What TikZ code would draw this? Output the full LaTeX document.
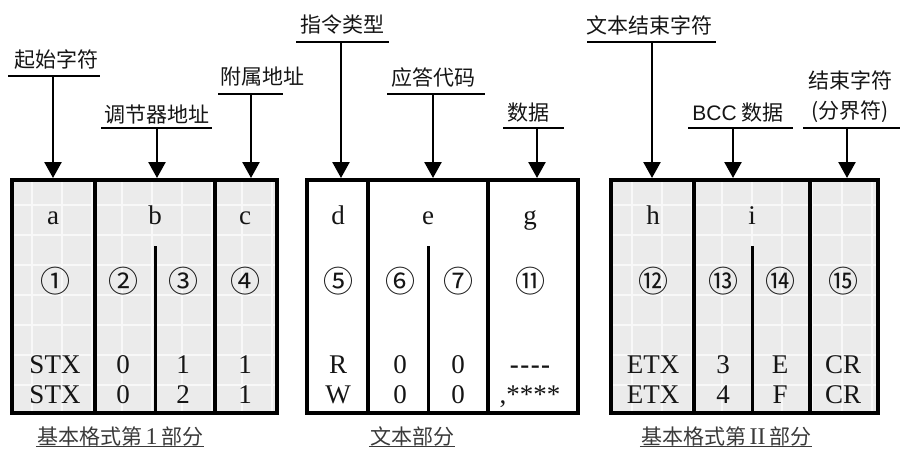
\documentclass[tikz,border=0pt]{standalone}
\usepackage{fontspec}
\setmainfont{Liberation Serif}
\setsansfont{Liberation Sans}
\newfontfamily\cjk{Noto Sans CJK SC}
\usetikzlibrary{arrows.meta,positioning,calc}
\definecolor{cellgray}{HTML}{EBEBEB}
\definecolor{gridwhite}{HTML}{F8F8F8}
\definecolor{textdark}{HTML}{151515}
\definecolor{captiongray}{HTML}{3A3A3A}
\tikzset{
  >={Triangle[length=16pt,width=17pt]},
  tag/.style={font=\cjk\fontsize{21}{30}\selectfont, text=textdark, inner sep=0pt, align=center},
  field/.style={font=\fontsize{27}{30}\selectfont, text=textdark, inner sep=0pt, anchor=base},
  circnum/.style={font=\cjk\fontsize{30}{32}\selectfont, text=textdark, inner sep=0pt, anchor=base},
  caption/.style={font=\cjk\fontsize{21}{25}\selectfont, text=captiongray, inner sep=1pt},
  capline/.style={draw=captiongray, line width=1pt},
  rule/.style={line width=2.5pt},
  pointer/.style={->, line width=2.5pt},
  frame/.style={line width=4.5pt},
  divider/.style={line width=3.6pt},
  halfdiv/.style={line width=3pt}
}
\newcommand{\datadash}{\textbf{-\kern1.5pt-\kern1.5pt-\kern1.5pt-}}
\newcommand{\datastar}{,****}
% grey panel with faint grid
\newcommand{\graypanel}[2]{
  \fill[cellgray] (#1,180) rectangle (#2,413);
  \begin{scope}
    \clip (#1,180) rectangle (#2,413);
    \foreach \gx in {2,32,...,902} \draw[gridwhite, line width=1.2pt] (\gx,180) -- (\gx,413);
    \foreach \gy in {175,205,...,415} \draw[gridwhite, line width=1.2pt] (#1,\gy) -- (#2,\gy);
  \end{scope}
}
% frame, two dividers, one half divider
\newcommand{\panel}[5]{
  \draw[frame] (#1,180) rectangle (#2,413);
  \draw[divider] (#3,180) -- (#3,413);
  \draw[divider] (#4,180) -- (#4,413);
  \draw[halfdiv] (#5,246) -- (#5,413);
}
% name, text x, text y, rule left, rule right, rule y, arrow x, text
\newcommand{\fieldtag}[8]{
  \node[tag] (#1) at (#2,#3) {#8};
  \coordinate (#1-l) at (#4,#6);
  \coordinate (#1-r) at (#5,#6);
  \coordinate (#1-s) at (#7,#6);
  \coordinate (#1-t) at (#7,178);
  \draw[rule] (#1-l) -- (#1-r);
  \draw[pointer] (#1-s) -- (#1-t);
}
\begin{document}
\begin{tikzpicture}[x=1pt,y=-1pt]
\useasboundingbox (0,0) rectangle (901,450);
\graypanel{12}{277}
\graypanel{611}{878}
\panel{12}{277}{95}{215}{155}
\panel{307}{578}{368}{488}{428}
\panel{611}{878}{694}{810}{752}
% labels above the frame
\fieldtag{start}{56}{60}{8}{100}{76}{53}{起始字符}
\fieldtag{regaddr}{157}{115}{101}{212}{128}{157}{调节器地址}
\fieldtag{subaddr}{262}{77}{218}{283}{94}{251}{附属地址}
\fieldtag{cmd}{342}{25}{296}{389}{42}{341}{指令类型}
\fieldtag{reply}{433}{78}{387}{485}{94}{433}{应答代码}
\fieldtag{data}{528}{113}{503}{564}{128}{537}{数据}
\fieldtag{etx}{649}{25}{587}{716}{42}{652}{文本结束字符}
\fieldtag{bcc}{738}{113}{688}{793}{128}{733}{{\sffamily BCC} 数据}
\fieldtag{term}{850}{97}{803}{900}{128}{847}{结束字符\\(分界符)}
% field letters
\foreach \cx/\txt [count=\k] in {53/a,155/b,245/c,338/d,428/e,530/g,653/h,752/i}
  \node[field] (let-\k) at (\cx,224) {\txt};
% field numbers
\foreach \cx/\txt [count=\k] in {55/①,123/②,183/③,245/④,338/⑤,400/⑥,458/⑦,530/⑪,653/⑫,723/⑬,780/⑭,843/⑮}
  \node[circnum] (num-\k) at (\cx,292) {\txt};
% example rows
\foreach \cx/\txt [count=\k] in {55/STX,123/0,183/1,245/1,338/R,400/0,458/0,530/\datadash,653/ETX,723/3,780/E,843/CR}
  \node[field] (rowa-\k) at (\cx,373) {\txt};
\foreach \cx/\txt [count=\k] in {55/STX,123/0,183/2,245/1,338/W,400/0,458/0,530/\datastar,653/ETX,723/4,780/F,843/CR}
  \node[field] (rowb-\k) at (\cx,403) {\txt};
% captions
\node[caption] (cap1) at (120,436) {基本格式第\,{\rmfamily\fontsize{24}{25}\selectfont 1}\,部分};
\node[caption] (cap2) at (412,436) {文本部分};
\node[caption] (cap3) at (726,436) {基本格式第\,{\rmfamily\fontsize{24}{25}\selectfont II}\,部分};
\foreach \c in {cap1,cap2,cap3}
  \draw[capline] (\c.south west) -- (\c.south east);
\end{tikzpicture}
\end{document}
